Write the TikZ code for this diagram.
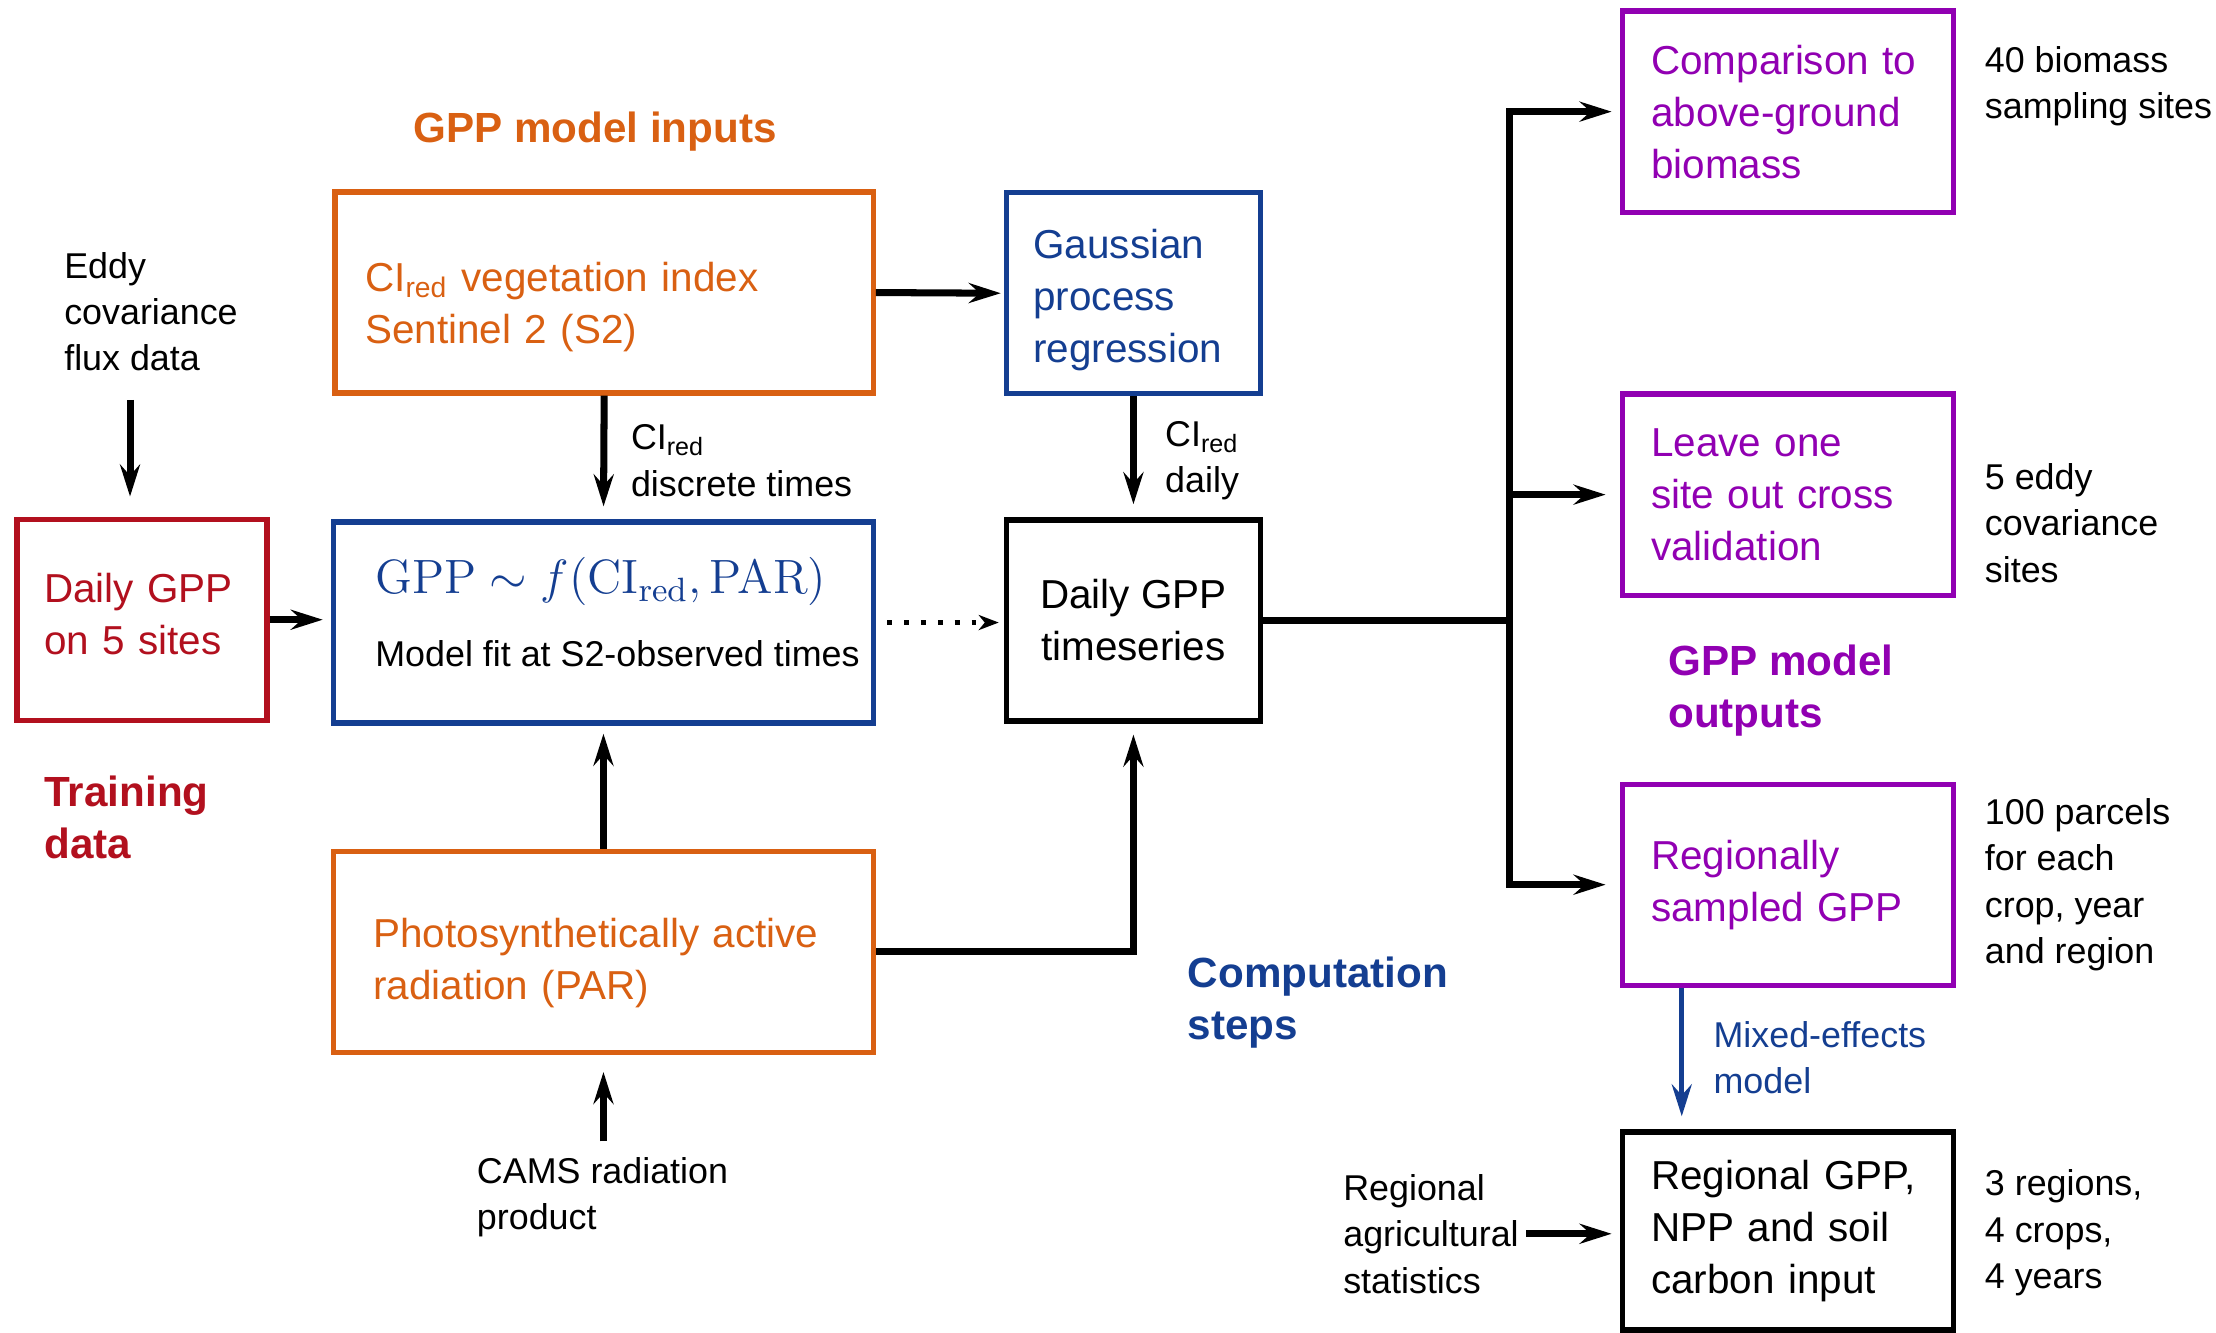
\RequirePackage{fix-cm}
\documentclass[tikz,border=0pt]{standalone}
\usepackage[no-math]{fontspec}
\setmainfont{Liberation Sans}
\usetikzlibrary{arrows.meta}
\definecolor{inorange}{RGB}{217,96,18}
\definecolor{stepblue}{RGB}{20,62,145}
\definecolor{trainred}{RGB}{178,16,30}
\definecolor{outpurple}{RGB}{145,0,178}
\tikzset{box/.style={
		draw,
		line width=1.5pt,
		align=left,
		inner xsep=0.3cm,
		minimum height=2.01cm,
		font=\fontsize{11.5}{14.8}\selectfont},
	note/.style={
		align=left,
		inner sep=0pt,
		anchor=west,
		font=\fontsize{10.2}{13.2}\selectfont},
	heading/.style={
		align=left,
		inner sep=0pt,
		anchor=west,
		font=\fontsize{12}{14.8}\selectfont\bfseries},
	flow/.style={
		line width=2pt,
		-{Stealth[length=3.2mm,width=2mm,inset=1.1mm]}}
	}

\begin{document}
\begin{tikzpicture}[x=0.014133cm,y=-0.014133cm]
	\useasboundingbox (0,0) rectangle (1568,943);
	\node [box,draw=inorange,text=inorange,text width=4.78cm,text height=16.4pt] (ci) at (427.5,207) {CI\textsubscript{red} vegetation index\\Sentinel 2 (S2)};
	\node [box,draw=stepblue,inner xsep=0pt,minimum width=5.40cm,text depth=6pt] (model) at (427,440.5) {\hspace*{0.28cm}{\fontsize{13.7}{16}\selectfont\color{stepblue}$\mathrm{GPP}\sim f(\mathrm{CI}_{\mathrm{red}},\mathrm{PAR})$}\\[5.8pt]\hspace*{0.28cm}{\fontsize{10.2}{13}\selectfont Model fit at S2-observed times}};
	\node [box,draw=inorange,text=inorange,inner xsep=0.4cm,text width=4.6cm,text height=14.8pt] (par) at (427,673.5) {Photosynthetically active\\radiation (PAR)};
	\node [box,draw=trainred,text=trainred,inner xsep=0.27cm,text width=1.96cm,text depth=18.2pt] (daily) at (100.5,438.5) {Daily GPP\\on 5 sites};
	\node [box,draw=stepblue,text=stepblue,inner xsep=0.27cm,text width=2cm,text height=12.4pt] (gpr) at (802,207.5) {Gaussian\\process\\regression};
	\node [box,align=center,minimum width=2.54cm] (ts) at (802,439) {Daily GPP\\timeseries};
	\node [box,draw=outpurple,text=outpurple,inner xsep=0.29cm,text width=2.73cm] (cmp) at (1265,79) {Comparison to\\above-ground\\biomass};
	\node [box,draw=outpurple,text=outpurple,inner xsep=0.29cm,text width=2.73cm] (loo) at (1265,350) {Leave one\\site out cross\\validation};
	\node [box,draw=outpurple,text=outpurple,inner xsep=0.29cm,text width=2.73cm] (rsg) at (1265,626) {Regionally\\sampled GPP};
	\node [box,inner xsep=0.29cm,text width=2.73cm,minimum height=1.98cm] (out) at (1265,871) {Regional GPP,\\NPP and soil\\carbon input};

	\node [heading,anchor=center,text=inorange] (intitle) at (421,93) {GPP model inputs};
	\node [heading,text=trainred] (traintitle) at (31,578.5) {Training\\data};
	\node [heading,text=stepblue] (steptitle) at (840,709.5) {Computation\\steps};
	\node [heading,text=outpurple] (outtitle) at (1180,488.5) {GPP model\\outputs};

	\node [note] (eddy) at (45,220.5) {Eddy\\covariance\\flux data};
	\node [note] (cilab) at (446,326) {CI\textsubscript{red}\\discrete times};
	\node [note] (gprlab) at (824,326) {CI\textsubscript{red}\\daily};
	\node [note] (cams) at (337,847) {CAMS radiation\\product};
	\node [note,text=stepblue] (mixlab) at (1212,748.5) {Mixed-effects\\model};
	\node [note] (stats) at (950,873) {Regional\\agricultural\\statistics};
	\node [note] (cmpnote) at (1404,61) {40 biomass\\sampling sites};
	\node [note] (loonote) at (1404,370) {5 eddy\\covariance\\sites};
	\node [note] (rsgnote) at (1404,626) {100 parcels\\for each\\crop, year\\and region};
	\node [note] (outnote) at (1404,872.5) {3 regions,\\4 crops,\\4 years};
	\coordinate (hub) at (1068,439);

	\draw [flow,shorten <=0.28cm,shorten >=0.2cm] ([xshift=-0.12cm]eddy.south -| daily.north) -- ([xshift=-0.12cm]daily.north);
	\draw [flow,shorten >=0.08cm] (daily.east) -- (daily.east -| model.west);
	\draw [flow,shorten >=0.13cm] (ci.south) -- (model.north);
	\draw [flow,shorten >=0.03cm] (ci.east) -- (gpr.west);
	\draw [flow,shorten >=0.13cm] (gpr.south) -- (ts.north);
	\draw [line width=1.4pt,dash pattern=on 1.4pt off 3.4pt,-{Stealth[length=2mm,width=1.5mm,inset=0.6mm]},shorten <=0.11cm,shorten >=0.05cm] (model.east) -- (model.east -| ts.west);
	\draw [flow,shorten >=0.08cm] (par.north) -- (model.south);
	\draw [flow,shorten >=0.11cm] (par.east) -| (ts.south);
	\draw [flow,shorten <=0.15cm,shorten >=0.17cm] (par.south |- cams.north) -- (par.south);
	\draw [line width=2pt] (ts.east) -- (hub);
	\draw [flow,shorten >=0.08cm] (hub) |- (cmp.west);
	\draw [flow,shorten >=0.14cm] (hub) |- (loo.west);
	\draw [flow,shorten >=0.14cm] (hub) |- (rsg.west);
	\draw [flow,draw=stepblue,line width=1.4pt,shorten >=0.13cm] ([xshift=-1.06cm]rsg.south) -- ([xshift=-1.06cm]out.north);
	\draw [flow,shorten <=0.07cm,shorten >=0.08cm] (stats.east) -- (stats.east -| out.west);
\end{tikzpicture}
\end{document}
